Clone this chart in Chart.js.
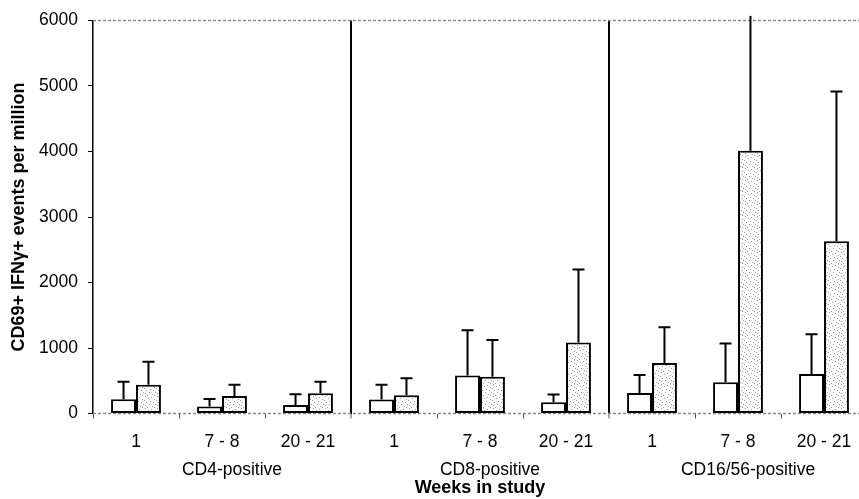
<!DOCTYPE html>
<html>
<head>
<meta charset="utf-8">
<script src="https://cdn.jsdelivr.net/npm/chart.js@4.4.1/dist/chart.umd.min.js"></script>
<style>
  html, body { margin: 0; padding: 0; background: #fff; overflow: hidden; }
  #wrap { position: relative; width: 867px; height: 499px; }
</style>
</head>
<body>
<div id="wrap"><canvas id="chart"></canvas></div>
<script>
// week labels for each bar pair, and the cell-type groups they belong to
const weekLabels = ['1', '7 - 8', '20 - 21', '1', '7 - 8', '20 - 21', '1', '7 - 8', '20 - 21'];
const cellGroups = ['CD4-positive', 'CD8-positive', 'CD16/56-positive'];

// open bars (left of each pair) and their upper error
const openMeans = [217, 106, 131, 213, 582, 172, 314, 476, 603];
const openErrors = [269, 117, 163, 227, 689, 117, 274, 592, 607];

// stippled bars (right of each pair) and their upper error
const shadedMeans = [440, 268, 309, 278, 562, 1083, 770, 4010, 2628];
const shadedErrors = [350, 172, 177, 259, 562, 1115, 547, 2060, 2288];

const yMax = 6000;
const yStep = 1000;

const FONT = "'Liberation Sans', Arial, sans-serif";

// light irregular stipple for the second series
function stipple() {
    const c = document.createElement('canvas');
    c.width = 12; c.height = 12;
    const g = c.getContext('2d');
    g.fillStyle = '#fcfcfc';
    g.fillRect(0, 0, 12, 12);
    g.fillStyle = '#9c9c9c';
    [[1, 0], [7, 1], [4, 2], [10, 3], [0, 4], [6, 5], [2, 6], [9, 6],
     [5, 8], [11, 8], [1, 9], [8, 10], [3, 11], [10, 11]].forEach(([a, b]) => g.fillRect(a, b, 1, 1));
    return g.createPattern(c, 'repeat');
}

// upward-only error bars with a cap (no cap when it runs off the top)
const errorBars = {
    id: 'errorBars',
    afterDatasetsDraw(chart) {
        const ctx = chart.ctx;
        const y = chart.scales.y;
        chart.data.datasets.forEach((ds, i) => {
            chart.getDatasetMeta(i).data.forEach((bar, j) => {
                const top = ds.data[j] + ds.errors[j];
                const yTop = y.getPixelForValue(top);
                ctx.save();
                ctx.strokeStyle = '#000';
                ctx.lineWidth = 2;
                ctx.beginPath();
                ctx.moveTo(bar.x, bar.y);
                ctx.lineTo(bar.x, yTop);
                if (top <= y.max) {
                    ctx.moveTo(bar.x - 6, yTop);
                    ctx.lineTo(bar.x + 6, yTop);
                }
                ctx.stroke();
                ctx.restore();
            });
        });
    }
};

// dotted frame lines along the top and the bottom axis
const frame = {
    id: 'frame',
    beforeDatasetsDraw(chart) {
        const ctx = chart.ctx;
        const a = chart.chartArea;
        ctx.save();
        ctx.strokeStyle = '#8a8a8a';
        ctx.lineWidth = 1.5;
        ctx.setLineDash([3, 2]);
        ctx.beginPath();
        ctx.moveTo(a.left, a.top);
        ctx.lineTo(chart.width, a.top);
        ctx.moveTo(a.left, a.bottom);
        ctx.lineTo(chart.width, a.bottom);
        ctx.stroke();
        ctx.restore();
    }
};

const isSeparator = ctx => ctx.index === 3 || ctx.index === 6;

new Chart(document.getElementById('chart'), {
    type: 'bar',
    data: {
        labels: weekLabels,
        datasets: [{
            data: openMeans,
            errors: openErrors,
            backgroundColor: '#fff',
            borderColor: '#000',
            borderWidth: 2,
            borderSkipped: false
        }, {
            data: shadedMeans,
            errors: shadedErrors,
            backgroundColor: stipple(),
            borderColor: '#000',
            borderWidth: 2,
            borderSkipped: false
        }]
    },
    options: {
        responsive: true,
        maintainAspectRatio: false,
        animation: false,
        layout: { padding: { top: 18.5, right: 0, left: 0, bottom: 0.7 } },
        datasets: { bar: { barPercentage: 1, categoryPercentage: 0.58 } },
        plugins: {
            legend: { display: false },
            tooltip: { enabled: false }
        },
        scales: {
            x: {
                offset: true,
                grid: {
                    offset: true,
                    drawOnChartArea: true,
                    color: ctx => isSeparator(ctx) ? '#000' : 'rgba(0,0,0,0)',
                    lineWidth: ctx => isSeparator(ctx) ? 2 : 1,
                    tickColor: '#555',
                    tickWidth: 1,
                    tickLength: 5
                },
                border: { display: false },
                ticks: {
                    color: '#000',
                    font: { family: FONT, size: 17.5, lineHeight: 1 },
                    padding: 15,
                    autoSkip: false,
                    maxRotation: 0
                },
                afterFit: s => { s.height = 37.5; }
            },
            x2: {
                type: 'category',
                labels: cellGroups,
                position: 'bottom',
                offset: true,
                grid: { display: false, drawTicks: false, tickLength: 0 },
                border: { display: false },
                ticks: {
                    color: '#000',
                    font: { family: FONT, size: 17.5, lineHeight: 1 },
                    padding: 10,
                    labelOffset: 10,
                    maxRotation: 0
                },
                title: {
                    display: true,
                    text: 'Weeks in study',
                    color: '#000',
                    font: { family: FONT, size: 18, weight: 'bold', lineHeight: 1.1 },
                    padding: { top: 0, bottom: 0 }
                },
                afterFit: s => { s.height = 47.3; }
            },
            y: {
                min: 0,
                max: yMax,
                ticks: {
                    stepSize: yStep,
                    color: '#000',
                    font: { family: FONT, size: 17.5 },
                    padding: 10,
                    callback: v => String(v)
                },
                grid: { drawOnChartArea: false, tickLength: 5, tickColor: '#000' },
                border: { color: '#000', width: 1.5 },
                title: {
                    display: true,
                    text: 'CD69+ IFNγ+ events per million',
                    color: '#000',
                    font: { family: FONT, size: 18, weight: 'bold', lineHeight: 1.1 },
                    padding: { top: 9, bottom: 0 }
                },
                afterFit: s => { s.width = 93; }
            }
        }
    },
    plugins: [errorBars, frame]
});
</script>
</body>
</html>
